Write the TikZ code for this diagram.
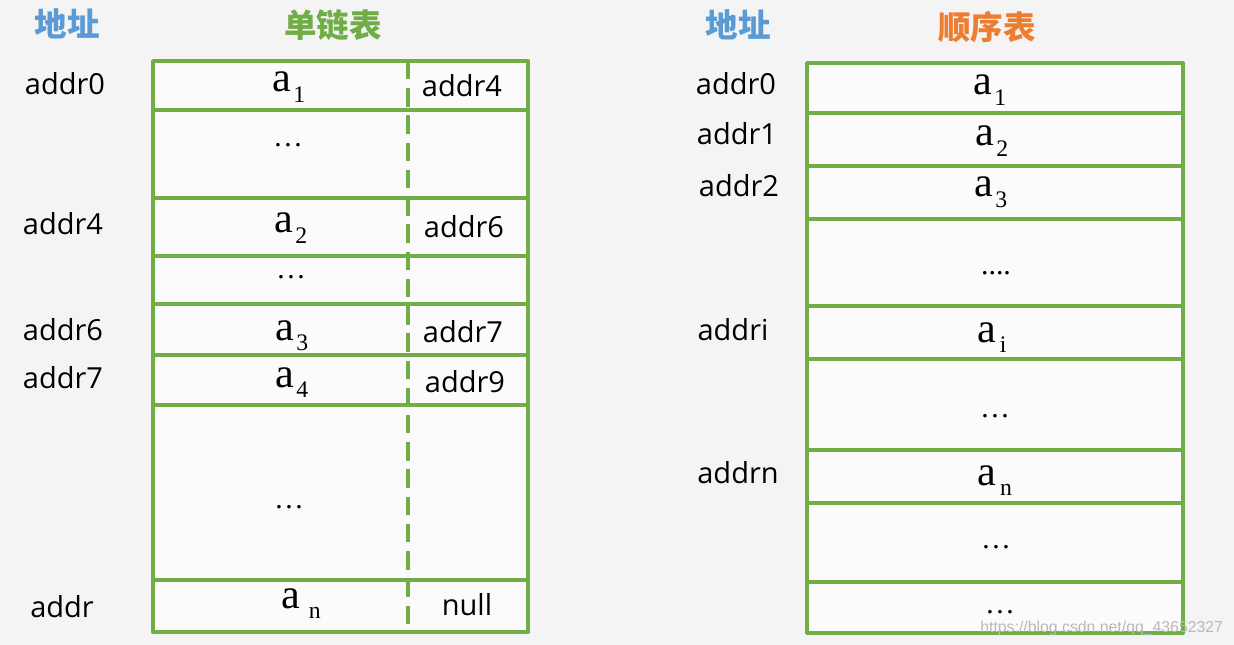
\documentclass[tikz,border=0pt]{standalone}
\usepackage{fontspec}
\setmainfont{Open Sans}
\newfontfamily\cjk{Noto Sans CJK SC}
\newfontfamily\serif{Liberation Serif}
\newfontfamily\wmfont{Liberation Sans}
\definecolor{listgreen}{RGB}{112,173,71}
\definecolor{titleblue}{RGB}{91,155,213}
\definecolor{titleorange}{RGB}{237,125,49}
\definecolor{bggray}{RGB}{244,244,244}
\definecolor{cellwhite}{RGB}{251,251,251}
\newcommand{\elem}[2][1pt]{{\serif\fontsize{24}{24}\selectfont a\kern#1\raisebox{-6pt}{\fontsize{13.5}{13.5}\selectfont #2}}}
\newcommand{\gap}[1]{{\serif\fontsize{17}{17}\selectfont #1}}
\tikzset{
  title/.style={font=\cjk\bfseries\fontsize{18.5}{18.5}\selectfont},
  addr/.style={anchor=base,inner sep=0pt,font=\fontsize{16.5}{19}\selectfont},
  item/.style={anchor=base,inner sep=0pt},
  grid/.style={line width=2.2pt,color=listgreen},
}

\begin{document}
\begin{tikzpicture}[line cap=round,line join=round,x=0.02cm,y=-0.02cm]
        \fill[bggray] (0,0) rectangle (1234,645);
        \useasboundingbox (0,0) rectangle (1234,645);
        % single linked list
        \fill[cellwhite] (153,61) rectangle (528,632);
        \draw[grid] (153,61) rectangle (528,632);
        \draw[grid] (153,110) -- (528,110);
        \draw[grid] (153,198) -- (528,198);
        \draw[grid] (153,256) -- (528,256);
        \draw[grid] (153,304) -- (528,304);
        \draw[grid] (153,355) -- (528,355);
        \draw[grid] (153,405) -- (528,405);
        \draw[grid] (153,580) -- (528,580);
        \draw[grid,line cap=butt,dash pattern=on 10.5pt off 5pt] (408,61) -- (408,632);
        \node[title,color=titleblue] (addrtitleL) at (67,24) {地址};
        \node[title,color=listgreen] (linktitle) at (333,25) {单链表};
        \node[addr] (laddr0) at (65,95) {addr0};
        \node[addr] (laddr4) at (63,235) {addr4};
        \node[addr] (laddr6) at (63,340) {addr6};
        \node[addr] (laddr7) at (63,388) {addr7};
        \node[addr] (laddrn) at (62,617) {addr};
        \node[item] (la1) at (289,92) {\elem{1}};
        \node[item] (lgap1) at (288,147) {\gap{\ldots}};
        \node[item] (la2) at (291,233) {\elem{2}};
        \node[item] (lgap2) at (291,278) {\gap{\ldots}};
        \node[item] (la3) at (292,340) {\elem{3}};
        \node[item] (la4) at (292,387) {\elem{4}};
        \node[item] (lgap3) at (289,508) {\gap{\ldots}};
        \node[item] (lan) at (301,608) {\elem[5pt]{n}};
        \node[addr] (next1) at (462,97) {addr4};
        \node[addr] (next2) at (464,238) {addr6};
        \node[addr] (next3) at (463,342) {addr7};
        \node[addr] (next4) at (465,392) {addr9};
        \node[addr] (nextn) at (467,615) {null};
        % sequential list
        \fill[cellwhite] (807,63) rectangle (1183,633);
        \draw[grid] (807,63) rectangle (1183,633);
        \draw[grid] (807,113) -- (1183,113);
        \draw[grid] (807,166) -- (1183,166);
        \draw[grid] (807,219) -- (1183,219);
        \draw[grid] (807,306) -- (1183,306);
        \draw[grid] (807,359) -- (1183,359);
        \draw[grid] (807,450) -- (1183,450);
        \draw[grid] (807,503) -- (1183,503);
        \draw[grid] (807,582) -- (1183,582);
        \node[title,color=titleblue] (addrtitleR) at (738,25) {地址};
        \node[title,color=titleorange] (seqtitle) at (987,27) {顺序表};
        \node[addr] (raddr0) at (736,95) {addr0};
        \node[addr] (raddr1) at (737,145) {addr1};
        \node[addr] (raddr2) at (739,197) {addr2};
        \node[addr] (raddri) at (733,340) {addri};
        \node[addr] (raddrn) at (738,483) {addrn};
        \node[item] (ra1) at (990,95) {\elem{1}};
        \node[item] (ra2) at (992,146) {\elem{2}};
        \node[item] (ra3) at (991,197) {\elem{3}};
        \node[item] (rgap1) at (996,275) {\gap{....}};
        \node[item] (rai) at (992,342) {\elem[2pt]{i}};
        \node[item] (rgap2) at (995,417) {\gap{\ldots}};
        \node[item] (ran) at (995,485) {\elem[2pt]{n}};
        \node[item] (rgap3) at (996,548) {\gap{\ldots}};
        \node[item] (rgap4) at (1000,613) {\gap{\ldots}};
        \node[anchor=base west,inner sep=0pt,color=gray!55,font=\wmfont\fontsize{9}{10}\selectfont] (mark) at (980,632) {https://blog.csdn.net/qq\_43652327};
\end{tikzpicture}
\end{document}
